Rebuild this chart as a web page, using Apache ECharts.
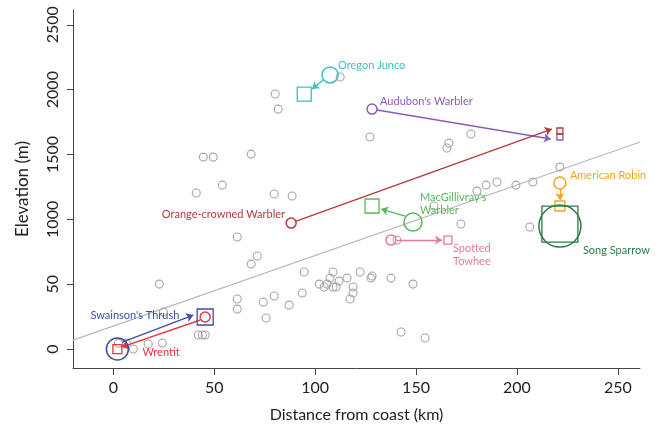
<!DOCTYPE html>
<html><head><meta charset="utf-8">
<script src="https://cdn.jsdelivr.net/npm/echarts@6/dist/echarts.min.js"></script>
<style>html,body{margin:0;padding:0;background:#fff}#c{width:661px;height:428px}</style>
</head><body><div id="c"></div>
<script>
// ---- data ----
const xTicks = [0, 50, 100, 150, 200, 250];
const yTicks = [0, 500, 1000, 1500, 2000, 2500];
const yTickLabels = ['0', '50', '1000', '1500', '2000', '2500'];

const siteKm = [112.4, 80.2, 81.7, 44.6, 49.5, 68.3, 54.0, 41.1, 79.7, 88.6, 127.2, 177.2, 166.3, 165.3, 221.3, 184.7, 190.1, 199.5, 207.9, 180.2, 172.3, 206.4, 158.9, 140.6, 61.4, 71.3, 68.3, 22.8, 24.8, 61.4, 61.4, 74.3, 79.7, 87.1, 75.7, 93.6, 94.6, 108.9, 107.4, 115.8, 102.0, 104.5, 105.9, 108.9, 110.4, 111.9, 118.8, 118.8, 117.3, 122.3, 128.2, 127.7, 137.6, 148.5, 142.6, 154.5, 42.1, 44.1, 45.5, 2.5, 6.4, 9.9, 17.3, 24.3];
const siteElev = [2097, 1966, 1850, 1480, 1480, 1503, 1264, 1203, 1195, 1180, 1635, 1658, 1588, 1550, 1403, 1264, 1288, 1264, 1288, 1218, 964, 941, 1103, 840, 864, 717, 655, 501, 285, 386, 308, 362, 409, 339, 239, 432, 594, 594, 547, 547, 501, 478, 501, 478, 478, 524, 478, 432, 386, 594, 563, 547, 547, 501, 131, 85, 108, 108, 108, 46, 46, 0, 39, 46];

const species = ['Oregon Junco', "Audubon's Warbler", 'Orange-crowned Warbler', "MacGillivray's\nWarbler", 'Spotted\nTowhee', 'American Robin', 'Song Sparrow', "Swainson's Thrush", 'Wrentit'];
const circleKm   = [107.4, 128.2, 88.1, 148.5, 137.6, 221.3, 221.3, 2.0, 45.5];
const circleElev = [2113, 1850, 971, 979, 840, 1280, 948, 0, 247];
const squareKm   = [94.6, 221.3, 221.3, 128.2, 165.8, 221.3, 221.3, 45.5, 2.0];
const squareElev = [1966, 1635, 1681, 1103, 840, 1103, 963, 247, 0];

const arrowFromKm   = [104.0, 130.7, 90.6, 144.6, 140.6, 221.3, 4.5, 43.1];
const arrowFromElev = [2074, 1843, 987, 1025, 840, 1234, 54, 224];
const arrowToKm     = [98.5, 216.8, 217.3, 132.7, 162.9, 221.3, 39.6, 4.0];
const arrowToElev   = [2004, 1619, 1696, 1079, 840, 1149, 262, 15];
const arrowSpecies  = [0, 1, 2, 3, 4, 5, 7, 8];

const trendKm = [-20, 261];
const trendElev = [69, 1596];

// ---- styles ----
const colors = ['#3fbfc3', '#8a5fb3', '#b33a3a', '#58b65a', '#e9789a', '#f4a41f', '#2e7a4c', '#3d4fa3', '#e5383c'];
const circleSize = [16, 10, 10, 18, 10, 12, 42, 22, 10];
const squareSize = [[14, 14], [6, 6], [6, 6], [14, 14], [8, 8], [10, 10], [36, 36], [16, 16], [9, 9]];
const labelOnSquare = [false, false, false, false, false, false, false, false, true];
const labelPos = [
  {align: 'left', off: [8, -10]},
  {align: 'left', off: [8, -8]},
  {align: 'right', off: [-6, -9]},
  {align: 'left', off: [7, -18]},
  {align: 'left', off: [62, 15]},
  {align: 'left', off: [10, -8]},
  {align: 'left', off: [23, 24]},
  {align: 'right', off: [62, -34]},
  {align: 'left', off: [25, 3]}
];
const FONT = 'Lato';

function lbl(i) {
  return {
    show: true, formatter: species[i], position: 'inside', align: labelPos[i].align,
    verticalAlign: 'middle', offset: labelPos[i].off, color: colors[i],
    fontFamily: FONT, fontSize: 11, lineHeight: 13
  };
}

const circleData = species.map((s, i) => ({
  value: [circleKm[i], circleElev[i]], symbolSize: circleSize[i],
  itemStyle: {color: 'rgba(255,255,255,0)', borderColor: colors[i], borderWidth: 1.5, opacity: 1},
  label: labelOnSquare[i] ? {show: false} : lbl(i)
}));
const squareData = species.map((s, i) => ({
  value: [squareKm[i], squareElev[i]], symbolSize: squareSize[i],
  itemStyle: {color: 'rgba(255,255,255,0)', borderColor: colors[i], borderWidth: 1.3, opacity: 1},
  label: labelOnSquare[i] ? lbl(i) : {show: false}
}));
const arrowData = arrowSpecies.map((s, k) => ({
  coords: [[arrowFromKm[k], arrowFromElev[k]], [arrowToKm[k], arrowToElev[k]]],
  lineStyle: {color: colors[s], width: 1.4, opacity: 1}
}));

const axisCol = '#444';
const chart = echarts.init(document.getElementById('c'), null, {renderer: 'canvas'});
chart.setOption({
  animation: false,
  backgroundColor: '#fff',
  grid: {left: 73, right: 21, top: 10, bottom: 60, containLabel: false},
  xAxis: {
    type: 'value', min: -20, max: 261,
    name: 'Distance from coast (km)', nameLocation: 'middle', nameGap: 39,
    nameTextStyle: {fontFamily: FONT, fontSize: 16, color: '#222'},
    splitLine: {show: false},
    axisLine: {show: true, onZero: false, lineStyle: {color: axisCol, width: 1}},
    axisTick: {show: true, length: 7, customValues: xTicks, lineStyle: {color: axisCol}},
    axisLabel: {customValues: xTicks, fontFamily: FONT, fontSize: 16, color: '#222', margin: 12}
  },
  yAxis: {
    type: 'value', min: -146, max: 2614,
    name: 'Elevation (m)', nameLocation: 'middle', nameGap: 42,
    nameTextStyle: {fontFamily: FONT, fontSize: 17, color: '#222'},
    splitLine: {show: false},
    axisLine: {show: true, onZero: false, lineStyle: {color: axisCol, width: 1}},
    axisTick: {show: true, length: 6, customValues: yTicks, lineStyle: {color: axisCol}},
    axisLabel: {
      customValues: yTicks, rotate: 90, fontFamily: FONT, fontSize: 16, color: '#222', margin: 12,
      formatter: v => yTickLabels[yTicks.indexOf(v)]
    }
  },
  series: [
    {type: 'scatter', symbol: 'circle', symbolSize: 8, z: 2,
     data: siteKm.map((x, i) => [x, siteElev[i]]),
     itemStyle: {color: 'rgba(255,255,255,0)', borderColor: '#a6a6a6', borderWidth: 1.1, opacity: 1}},
    {type: 'line', data: trendKm.map((x, i) => [x, trendElev[i]]), symbol: 'none', z: 1,
     lineStyle: {color: '#b8b8b8', width: 1.2}, clip: true},
    {type: 'lines', coordinateSystem: 'cartesian2d', z: 3, symbol: ['none', 'arrow'], symbolSize: 7,
     data: arrowData},
    {type: 'scatter', symbol: 'rect', z: 4, data: squareData},
    {type: 'scatter', symbol: 'circle', z: 5, data: circleData}
  ]
});
</script></body></html>
